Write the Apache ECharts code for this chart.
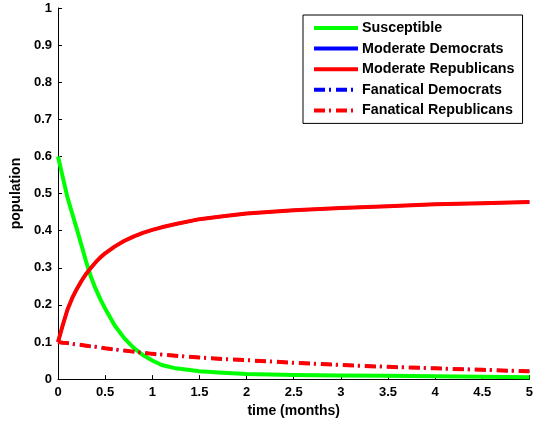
<!DOCTYPE html>
<html>
<head>
<meta charset="utf-8">
<script src="https://cdn.jsdelivr.net/npm/echarts@6/dist/echarts.min.js"></script>
<style>
  html, body { margin: 0; padding: 0; background: #fff; }
  #chart { width: 536px; height: 423px; }
</style>
</head>
<body>
<div id="chart"></div>
<script>
// Time samples (months)
const time = [0, 0.05, 0.1, 0.15, 0.2, 0.25, 0.3, 0.35, 0.4, 0.45, 0.5, 0.6, 0.7, 0.8, 0.9, 1.0, 1.1, 1.25, 1.5, 1.75, 2.0, 2.5, 3.0, 3.5, 4.0, 4.5, 5.0];

// Population fractions per group
const susceptible  = [0.600, 0.545, 0.490, 0.447, 0.404, 0.360, 0.315, 0.275, 0.243, 0.215, 0.190, 0.145, 0.111, 0.085, 0.065, 0.050, 0.038, 0.029, 0.021, 0.017, 0.014, 0.011, 0.010, 0.009, 0.008, 0.006, 0.005];
const moderateRep  = [0.100, 0.145, 0.187, 0.218, 0.243, 0.265, 0.284, 0.300, 0.315, 0.328, 0.339, 0.357, 0.372, 0.384, 0.394, 0.402, 0.409, 0.418, 0.431, 0.439, 0.446, 0.455, 0.461, 0.466, 0.471, 0.474, 0.477];
const fanaticalRep = [0.100, 0.098, 0.097, 0.095, 0.093, 0.092, 0.090, 0.088, 0.087, 0.085, 0.083, 0.080, 0.077, 0.074, 0.071, 0.068, 0.066, 0.063, 0.058, 0.054, 0.051, 0.044, 0.038, 0.033, 0.029, 0.025, 0.021];
// Democrat groups follow the same trajectories as the Republican groups
const moderateDem = moderateRep.slice();
const fanaticalDem = fanaticalRep.slice();

const yTicks = [0, 0.1, 0.2, 0.3, 0.4, 0.5, 0.6, 0.7, 0.8, 0.9, 1];
const xTicks = [0, 0.5, 1, 1.5, 2, 2.5, 3, 3.5, 4, 4.5, 5];

const names = ['Susceptible', 'Moderate Democrats', 'Moderate Republicans', 'Fanatical Democrats', 'Fanatical Republicans'];

const pair = arr => time.map((t, i) => [t, arr[i]]);
const dashDot = [11, 4, 2, 5];

function line(name, data, color, dashed, width) {
  return {
    name: name,
    type: 'line',
    data: pair(data),
    symbol: 'none',
    smooth: false,
    lineStyle: { color: color, width: width, type: dashed ? dashDot : 'solid', cap: 'butt', join: 'round' },
    itemStyle: { color: color },
    emphasis: { disabled: true },
    animation: false
  };
}

const font = 'Arial, "Liberation Sans", sans-serif';
const chart = echarts.init(document.getElementById('chart'), null, { renderer: 'canvas' });
chart.setOption({
  backgroundColor: '#fff',
  animation: false,
  grid: { left: 58, right: 5, top: 8, bottom: 42, containLabel: false },
  xAxis: {
    type: 'value',
    min: xTicks[0], max: xTicks[xTicks.length - 1], interval: 0.5,
    name: 'time (months)', nameLocation: 'middle', nameGap: 22,
    nameTextStyle: { fontFamily: font, fontWeight: 'bold', fontSize: 14, color: '#000' },
    axisLine: { lineStyle: { color: '#000', width: 1 } },
    axisTick: { inside: true, length: 4, lineStyle: { color: '#000' } },
    axisLabel: { fontFamily: font, fontWeight: 'bold', fontSize: 13, color: '#000', margin: 7 },
    splitLine: { show: false }
  },
  yAxis: {
    type: 'value',
    min: yTicks[0], max: yTicks[yTicks.length - 1], interval: 0.1,
    name: 'population', nameLocation: 'middle', nameGap: 28,
    nameTextStyle: { fontFamily: font, fontWeight: 'bold', fontSize: 14, color: '#000' },
    axisLine: { show: true, lineStyle: { color: '#000', width: 1 } },
    axisTick: { show: true, inside: true, length: 4, lineStyle: { color: '#000' } },
    axisLabel: { fontFamily: font, fontWeight: 'bold', fontSize: 13, color: '#000', margin: 6,
      formatter: v => String(Math.round(v * 10) / 10) },
    splitLine: { show: false }
  },
  legend: {
    data: names,
    orient: 'vertical',
    left: 303, top: 15,
    itemWidth: 44, itemHeight: 14, itemGap: 6.6,
    padding: [6, 8, 6, 9],
    backgroundColor: '#fff',
    borderColor: '#000', borderWidth: 1,
    selectedMode: false,
    itemStyle: { opacity: 0 },
    lineStyle: { width: 4, cap: 'butt' },
    textStyle: { fontFamily: font, fontWeight: 'bold', fontSize: 14.3, lineHeight: 14, color: '#000', padding: [0, 0, 0, -1] }
  },
  series: [
    line('Susceptible', susceptible, '#00ff00', false, 4),
    // Democrat curves sit underneath the coincident Republican curves
    line('Moderate Democrats', moderateDem, '#0000ff', false, 3),
    line('Fanatical Democrats', fanaticalDem, '#0000ff', true, 3),
    line('Moderate Republicans', moderateRep, '#ff0000', false, 4),
    line('Fanatical Republicans', fanaticalRep, '#ff0000', true, 4)
  ]
});
</script>
</body>
</html>
